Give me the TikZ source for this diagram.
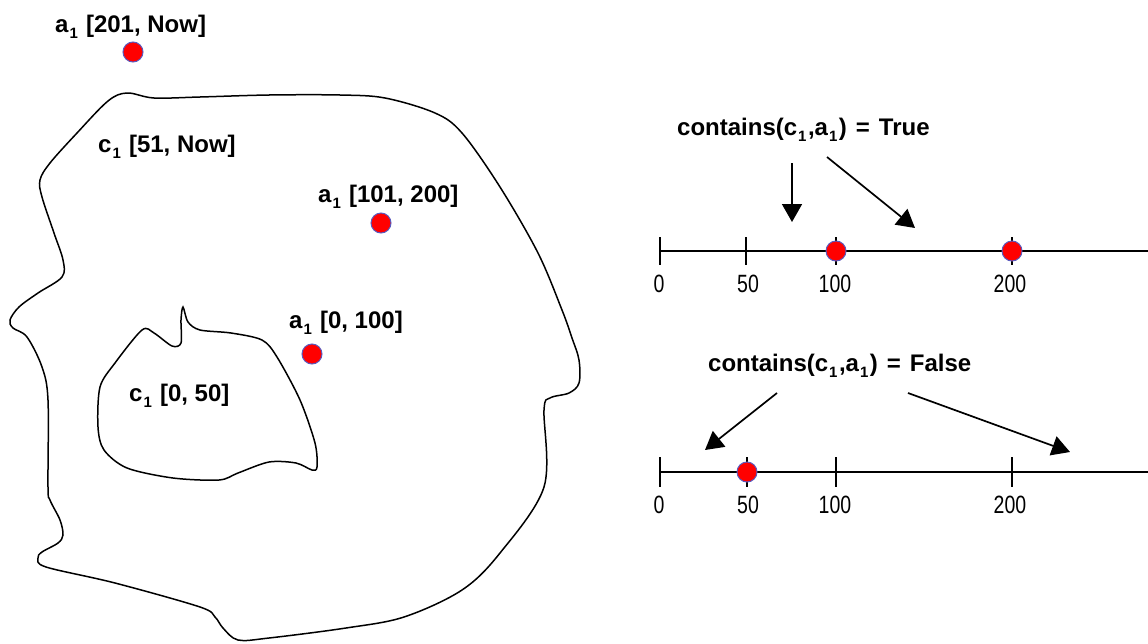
\documentclass[tikz,border=0pt]{standalone}
\usepackage{fontspec}
\usepackage{graphicx}
\setmainfont{Liberation Sans}
\usetikzlibrary{arrows.meta}
\newcommand\subone{\kern1pt\raisebox{-0.28em}{\fontsize{15}{15}\selectfont 1}\kern1.5pt}
\newcommand\narrow[1]{\scalebox{0.78}[1]{#1}}
\newcommand\eqsign{\hspace{9pt}=\hspace{9pt}}
\tikzset{
  lbl/.style={anchor=base west, inner sep=0pt, font=\fontsize{24}{28}\selectfont\bfseries},
  ticklbl/.style={anchor=base, inner sep=0pt, font=\fontsize{25}{28}\selectfont},
  reddot/.style={circle, fill=red, draw={rgb,255:red,90;green,90;blue,190}, line width=1pt, minimum size=20pt, inner sep=0pt},
  arr/.style={line width=1.7pt, -{Triangle[length=18pt,width=20pt]}},
  blob/.style={line width=1.5pt, draw=black},
  tl/.style={line width=2pt},
}
\begin{document}
\begin{tikzpicture}[x=1pt,y=-1pt]
\useasboundingbox (0,0) rectangle (1148,643);
% outer region
\draw[blob] plot[smooth cycle, tension=0.55] coordinates {
 (127,93) (154,98) (200,97) (269,95) (340,95) (385,98) (435,113) (462,133)
 (500,187) (538,253) (562,310) (572,338) (579,360) (579,383) (569,393) (550,398)
 (544,410) (544,487) (500,553) (462,590) (404,617) (346,628) (269,638) (238,640)
 (223,628) (215,617) (200,607) (115,583) (46,567) (38,558) (42,552) (58,543)
 (63,535) (60,520) (50,500) (48,487) (48,400) (42,367) (27,337) (13,328) (10,320)
 (19,307) (38,293) (62,277) (63,260) (54,233) (42,197) (40,180) (50,163) (77,133) (108,101)};
% inner region
\draw[blob] plot[smooth cycle, tension=0.5] coordinates {
 (183,307) (188,322) (200,330) (231,333) (262,340) (277,357) (300,400) (315,443)
 (317,467) (312,470) (296,463) (269,462) (238,473) (219,480) (173,478) (127,468)
 (104,450) (98,427) (100,387) (115,363) (142,330) (154,333) (172,346) (181,343) (181,320)};
% labels and points on the left
\node[lbl] (l1) at (55,32) {a\subone\ [201, Now]};
\node[reddot] (p1) at (133,52) {};
\node[lbl] (l2) at (98,152) {c\subone\ [51, Now]};
\node[lbl] (l3) at (318,202) {a\subone\ [101, 200]};
\node[reddot] (p2) at (381,223) {};
\node[lbl] (l4) at (289,328) {a\subone\ [0, 100]};
\node[reddot] (p3) at (312,354) {};
\node[lbl] (l5) at (129,401) {c\subone\ [0, 50]};
% top timeline
\coordinate (t1s) at (660,251);
\coordinate (t1e) at (1148,251);
\draw[tl] (t1s) -- (t1e);
\foreach \x/\n in {660/a,746/b,836/c,1012/d}{
  \coordinate (t1\n) at (\x,251);
  \draw[tl] ([yshift=14pt]t1\n) -- ([yshift=-14pt]t1\n);
}
\node[reddot] (q1) at (t1c) {};
\node[reddot] (q2) at (t1d) {};
\node[ticklbl] (n1a) at (659,292) {\narrow{0}};
\node[ticklbl] (n1b) at (748,292) {\narrow{50}};
\node[ticklbl] (n1c) at (835,292) {\narrow{100}};
\node[ticklbl] (n1d) at (1010,292) {\narrow{200}};
\node[lbl] (ct) at (677,135) {contains(c\subone,a\subone)\eqsign True};
\coordinate (a1s) at (792,163);
\coordinate (a1e) at (792,222);
\coordinate (a2s) at (827,157);
\coordinate (a2e) at (915,228);
\draw[arr] (a1s) -- (a1e);
\draw[arr] (a2s) -- (a2e);
% bottom timeline
\coordinate (t2s) at (660,472);
\coordinate (t2e) at (1148,472);
\draw[tl] (t2s) -- (t2e);
\foreach \x/\n in {660/a,747/b,836/c,1012/d}{
  \coordinate (t2\n) at (\x,472);
  \draw[tl] ([yshift=15pt]t2\n) -- ([yshift=-15pt]t2\n);
}
\node[reddot] (q3) at (t2b) {};
\node[ticklbl] (n2a) at (659,513) {\narrow{0}};
\node[ticklbl] (n2b) at (748,513) {\narrow{50}};
\node[ticklbl] (n2c) at (835,513) {\narrow{100}};
\node[ticklbl] (n2d) at (1010,513) {\narrow{200}};
\node[lbl] (cf) at (708,371) {contains(c\subone,a\subone)\eqsign False};
\coordinate (b1s) at (777,393);
\coordinate (b1e) at (705,450);
\coordinate (b2s) at (908,393);
\coordinate (b2e) at (1070,452);
\draw[arr] (b1s) -- (b1e);
\draw[arr] (b2s) -- (b2e);
\end{tikzpicture}
\end{document}
